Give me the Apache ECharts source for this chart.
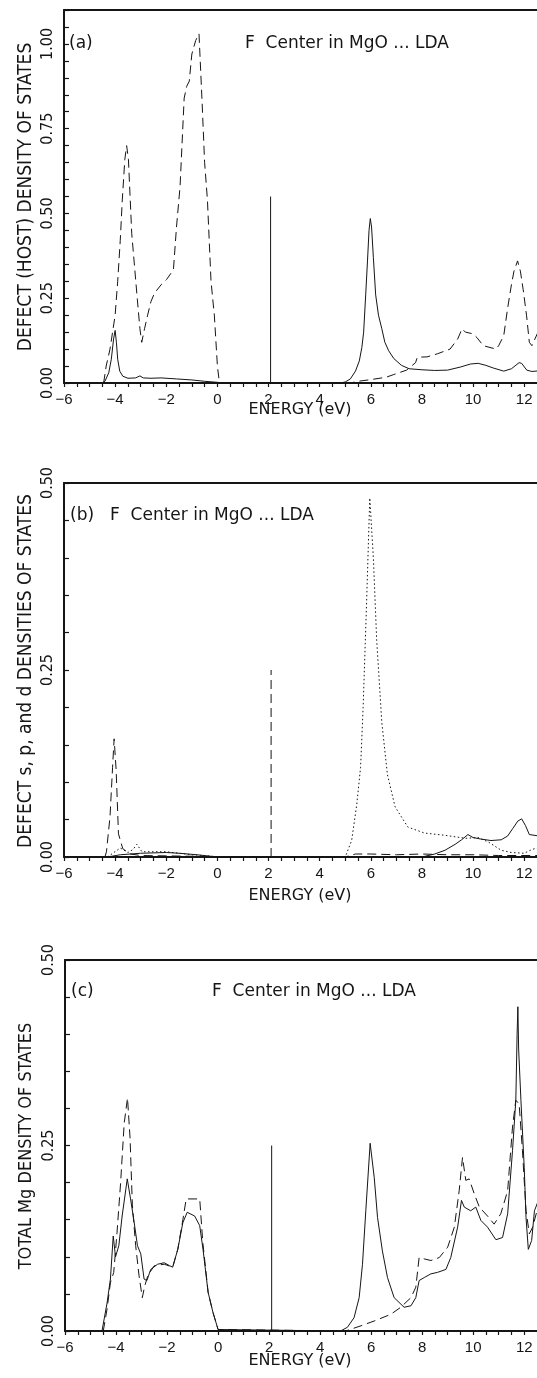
<!DOCTYPE html>
<html>
<head>
<meta charset="utf-8">
<title>F Center in MgO ... LDA</title>
<script src="https://cdn.jsdelivr.net/npm/echarts@6.0.0/dist/echarts.min.js"></script>
<style>
  html, body { margin: 0; padding: 0; background: #fff; }
  #mainChart { width: 537px; height: 1378px; }
</style>
</head>
<body>
<div id="mainChart"></div>
<script>
  // all curves: [energy (eV), density of states]
  var energyTicks = [-6, -4, -2, 0, 2, 4, 6, 8, 10, 12];
  var dosTicks = [0, 0.25, 0.5, 0.75, 1.0];

  // (a) defect (solid) and host (dashed) DOS
  var defectA = [[-4.5,0],[-4.4,0.005],[-4.25,0.03],[-4.15,0.07],[-4.06,0.13],[-4.0,0.155],[-3.95,0.12],[-3.9,0.07],[-3.82,0.035],[-3.7,0.02],[-3.5,0.014],[-3.2,0.015],[-3.03,0.021],[-2.9,0.015],[-2.6,0.014],[-2.2,0.015],[-1.6,0.012],[-1.0,0.009],[-0.5,0.005],[0,0.002],[0.3,0],[4.8,0],[5.0,0.003],[5.2,0.012],[5.4,0.035],[5.55,0.065],[5.65,0.105],[5.72,0.15],[5.8,0.26],[5.87,0.36],[5.93,0.45],[5.98,0.485],[6.03,0.46],[6.1,0.37],[6.19,0.26],[6.3,0.2],[6.43,0.16],[6.55,0.12],[6.7,0.095],[6.9,0.072],[7.2,0.052],[7.5,0.042],[8.0,0.039],[8.5,0.037],[9.0,0.038],[9.5,0.047],[9.9,0.056],[10.2,0.058],[10.5,0.052],[10.8,0.044],[11.2,0.035],[11.5,0.042],[11.8,0.06],[11.9,0.058],[12.1,0.038],[12.3,0.034],[12.6,0.036]];
  var hostA = [[-4.45,0],[-4.35,0.05],[-4.2,0.1],[-4.1,0.15],[-4.0,0.2],[-3.9,0.3],[-3.8,0.42],[-3.72,0.54],[-3.62,0.66],[-3.55,0.7],[-3.48,0.66],[-3.35,0.44],[-3.13,0.245],[-3.03,0.16],[-2.96,0.12],[-2.85,0.16],[-2.73,0.2],[-2.6,0.24],[-2.46,0.265],[-2.2,0.29],[-1.99,0.305],[-1.72,0.334],[-1.6,0.46],[-1.46,0.58],[-1.3,0.84],[-1.2,0.875],[-1.1,0.89],[-1.0,0.97],[-0.85,1.01],[-0.72,1.03],[-0.6,0.83],[-0.5,0.65],[-0.39,0.54],[-0.25,0.3],[-0.12,0.2],[0,0.05],[0.08,0],[5.2,0],[5.5,0.005],[6.0,0.01],[6.6,0.017],[6.9,0.025],[7.4,0.038],[7.75,0.06],[7.82,0.076],[8.2,0.077],[8.6,0.086],[9.1,0.1],[9.4,0.13],[9.57,0.16],[9.7,0.15],[10.0,0.145],[10.15,0.134],[10.4,0.11],[10.9,0.1],[11.0,0.11],[11.2,0.14],[11.35,0.22],[11.5,0.29],[11.6,0.33],[11.74,0.36],[11.85,0.33],[11.96,0.275],[12.09,0.2],[12.2,0.12],[12.3,0.11],[12.6,0.16]];
  var levelA = [[2.08,0],[2.08,0.55]];

  // (b) defect s (dashed), p (dotted) and d (solid) DOS
  var sB = [[-4.4,0],[-4.34,0.007],[-4.2,0.054],[-4.1,0.12],[-4.04,0.158],[-3.96,0.116],[-3.87,0.031],[-3.7,0.011],[-3.4,0.004],[-3.0,0.002],[-1.0,0.001],[0,0],[5.0,0],[5.4,0.004],[6.0,0.004],[7.0,0.003],[8.0,0.004],[9.0,0.003],[10.0,0.003],[11.0,0.002],[12.6,0.002]];
  var levelB = [[2.1,0],[2.1,0.25]];
  var pB = [[-4.3,0],[-3.8,0.012],[-3.5,0.006],[-3.3,0.01],[-3.15,0.017],[-2.95,0.007],[-2.5,0.007],[-2.0,0.007],[-1.5,0.005],[-1.0,0.003],[-0.2,0.001],[0,0],[5.0,0],[5.25,0.022],[5.45,0.07],[5.6,0.12],[5.7,0.2],[5.83,0.335],[5.96,0.48],[6.1,0.4],[6.23,0.29],[6.43,0.18],[6.65,0.11],[6.95,0.067],[7.45,0.04],[8.1,0.032],[8.9,0.029],[9.7,0.025],[10.2,0.026],[10.6,0.02],[11.1,0.009],[11.5,0.006],[12.0,0.005],[12.3,0.01],[12.6,0.013]];
  var dB = [[-4.3,0],[-3.8,0.003],[-3.0,0.005],[-2.0,0.006],[-1.5,0.005],[-0.8,0.003],[0,0],[8.0,0],[8.5,0.004],[8.9,0.009],[9.3,0.017],[9.55,0.023],[9.8,0.03],[10.0,0.026],[10.3,0.024],[10.7,0.022],[11.1,0.023],[11.35,0.028],[11.55,0.038],[11.75,0.048],[11.9,0.051],[12.05,0.042],[12.2,0.03],[12.6,0.028]];

  // (c) total Mg DOS, defect crystal (solid) and host (dashed)
  var defectC = [[-4.55,0],[-4.35,0.038],[-4.22,0.07],[-4.11,0.128],[-4.02,0.1],[-3.89,0.115],[-3.76,0.155],[-3.56,0.205],[-3.43,0.178],[-3.3,0.149],[-3.16,0.115],[-3.03,0.104],[-2.9,0.07],[-2.79,0.068],[-2.64,0.083],[-2.37,0.09],[-2.11,0.092],[-1.9,0.088],[-1.78,0.086],[-1.58,0.11],[-1.38,0.146],[-1.21,0.16],[-0.92,0.155],[-0.72,0.142],[-0.59,0.11],[-0.39,0.052],[-0.2,0.025],[0,0.002],[0.05,0],[4.8,0],[5.07,0.005],[5.33,0.018],[5.53,0.045],[5.66,0.09],[5.79,0.162],[5.96,0.253],[6.12,0.207],[6.25,0.153],[6.44,0.108],[6.64,0.072],[6.9,0.045],[7.29,0.032],[7.56,0.034],[7.75,0.045],[7.88,0.068],[8.08,0.072],[8.34,0.077],[8.6,0.079],[8.93,0.083],[9.12,0.099],[9.39,0.14],[9.54,0.176],[9.65,0.167],[9.9,0.162],[10.1,0.167],[10.3,0.149],[10.56,0.14],[10.89,0.123],[11.15,0.126],[11.35,0.158],[11.54,0.243],[11.67,0.311],[11.72,0.4],[11.75,0.437],[11.78,0.38],[11.87,0.311],[12.0,0.22],[12.07,0.153],[12.16,0.11],[12.29,0.122],[12.4,0.162],[12.6,0.18]];
  var hostC = [[-4.5,0],[-4.35,0.03],[-4.22,0.065],[-4.09,0.079],[-3.96,0.133],[-3.82,0.2],[-3.68,0.28],[-3.55,0.314],[-3.45,0.26],[-3.36,0.17],[-3.23,0.115],[-3.1,0.075],[-2.97,0.045],[-2.88,0.06],[-2.75,0.075],[-2.5,0.088],[-2.11,0.09],[-1.78,0.086],[-1.58,0.11],[-1.38,0.15],[-1.25,0.178],[-0.72,0.178],[-0.6,0.12],[-0.39,0.052],[-0.2,0.025],[0,0.002],[0.05,0],[5.0,0],[5.07,0.002],[5.6,0.007],[6.12,0.0135],[6.77,0.0225],[7.16,0.032],[7.56,0.045],[7.75,0.059],[7.88,0.099],[8.1,0.097],[8.34,0.095],[8.67,0.099],[9.0,0.113],[9.26,0.14],[9.45,0.189],[9.58,0.234],[9.71,0.203],[9.84,0.205],[10.04,0.185],[10.24,0.167],[10.56,0.155],[10.82,0.144],[11.08,0.158],[11.35,0.189],[11.54,0.275],[11.67,0.311],[11.8,0.306],[11.93,0.243],[12.07,0.162],[12.2,0.131],[12.33,0.14],[12.6,0.175]];
  var levelC = [[2.1,0],[2.1,0.25]];

  var ink = '#151515';
  var narrow = '"Liberation Sans Narrow", "DejaVu Sans Condensed", sans-serif';
  var plain = '"Liberation Sans", Arial, sans-serif';
  var title = '"DejaVu Sans", sans-serif';

  // x runs from -6 to 12.5, the picture is cut at the right edge
  var grids = [
    {left: 64, top: 10, right: 0, height: 373},
    {left: 64, top: 483, right: 0, height: 374},
    {left: 65, top: 960, right: 0, height: 371}
  ];
  var yMax = [1.1, 0.5, 0.5];

  function bottomAxis (i) {
    return {
      type: 'value', gridIndex: i, position: 'bottom',
      min: -6, max: 12.5, interval: 0.5,
      axisLine: {onZero: false, lineStyle: {color: ink, width: 2}},
      axisTick: {inside: false, length: 4, lineStyle: {color: ink, width: 1.2}},
      splitLine: {show: false},
      axisLabel: {
        margin: 9, color: ink, fontFamily: plain, fontSize: 15, showMaxLabel: false,
        formatter: function (v) {
          return energyTicks.indexOf(v) >= 0 ? String(v).replace('-', '\u2212') : '';
        }
      }
    };
  }
  function topAxis (i) {
    return {
      type: 'value', gridIndex: i, position: 'top', min: -6, max: 12.5,
      axisLine: {onZero: false, lineStyle: {color: ink, width: 2}},
      axisTick: {show: false}, axisLabel: {show: false}, splitLine: {show: false}
    };
  }
  function leftAxis (i) {
    return {
      type: 'value', gridIndex: i, min: 0, max: yMax[i], interval: 0.05,
      axisLine: {show: true, onZero: false, lineStyle: {color: ink, width: 2}},
      axisTick: {inside: true, length: 5, lineStyle: {color: ink, width: 1.2}},
      splitLine: {show: false},
      axisLabel: {
        rotate: 90, margin: 8, color: ink, fontFamily: narrow, fontSize: 16,
        formatter: function (v) {
          for (var k = 0; k < dosTicks.length; k++) {
            if (Math.abs(dosTicks[k] - v) < 1e-6) { return dosTicks[k].toFixed(2); }
          }
          return '';
        }
      }
    };
  }
  function line (name, data, axis, type) {
    return {
      name: name, type: 'line', data: data,
      xAxisIndex: axis * 2, yAxisIndex: axis,
      showSymbol: false, symbol: 'none', animation: false, silent: true,
      lineStyle: {color: ink, width: 1, type: type || 'solid'}
    };
  }
  function label (text, x, y, size, family, rotated) {
    return {
      type: 'text', x: x, y: y, rotation: rotated ? Math.PI / 2 : 0, silent: true,
      style: {
        text: text, fill: ink, font: size + 'px ' + family,
        align: rotated ? 'center' : 'left', verticalAlign: 'middle',
        textAlign: rotated ? 'center' : 'left', textVerticalAlign: 'middle'
      }
    };
  }
  function centred (text, x, y, size, family) {
    var t = label(text, x, y, size, family, false);
    t.style.align = 'center';
    t.style.textAlign = 'center';
    return t;
  }

  var myChart = echarts.init(document.getElementById('mainChart'));
  myChart.setOption({
    backgroundColor: '#fff',
    animation: false,
    grid: grids,
    xAxis: [bottomAxis(0), topAxis(0), bottomAxis(1), topAxis(1), bottomAxis(2), topAxis(2)],
    yAxis: [leftAxis(0), leftAxis(1), leftAxis(2)],
    series: [
      line('defect', defectA, 0),
      line('host', hostA, 0, [9, 5]),
      line('level', levelA, 0),
      line('s', sB, 1, [9, 5]),
      line('s level', levelB, 1, [9, 5]),
      line('p', pB, 1, [1.5, 2.5]),
      line('d', dB, 1),
      line('defect', defectC, 2),
      line('host', hostC, 2, [9, 5]),
      line('level', levelC, 2)
    ],
    graphic: [
      label('(a)', 69, 44, 17, title),
      label('F  Center in MgO ... LDA', 245, 44, 17, title),
      label('(b)', 70, 516, 17, title),
      label('F  Center in MgO ... LDA', 110, 516, 17, title),
      label('(c)', 71, 992, 17, title),
      label('F  Center in MgO ... LDA', 212, 992, 17, title),
      label('DEFECT (HOST) DENSITY OF STATES', 26, 197, 19, narrow, true),
      label('DEFECT s, p, and d DENSITIES OF STATES', 26, 671, 19, narrow, true),
      label('TOTAL Mg DENSITY OF STATES', 26, 1146, 18, narrow, true),
      centred('ENERGY (eV)', 300, 410, 16, title),
      centred('ENERGY (eV)', 300, 896, 16, title),
      centred('ENERGY (eV)', 300, 1361, 16, title)
    ]
  });
</script>
</body>
</html>
